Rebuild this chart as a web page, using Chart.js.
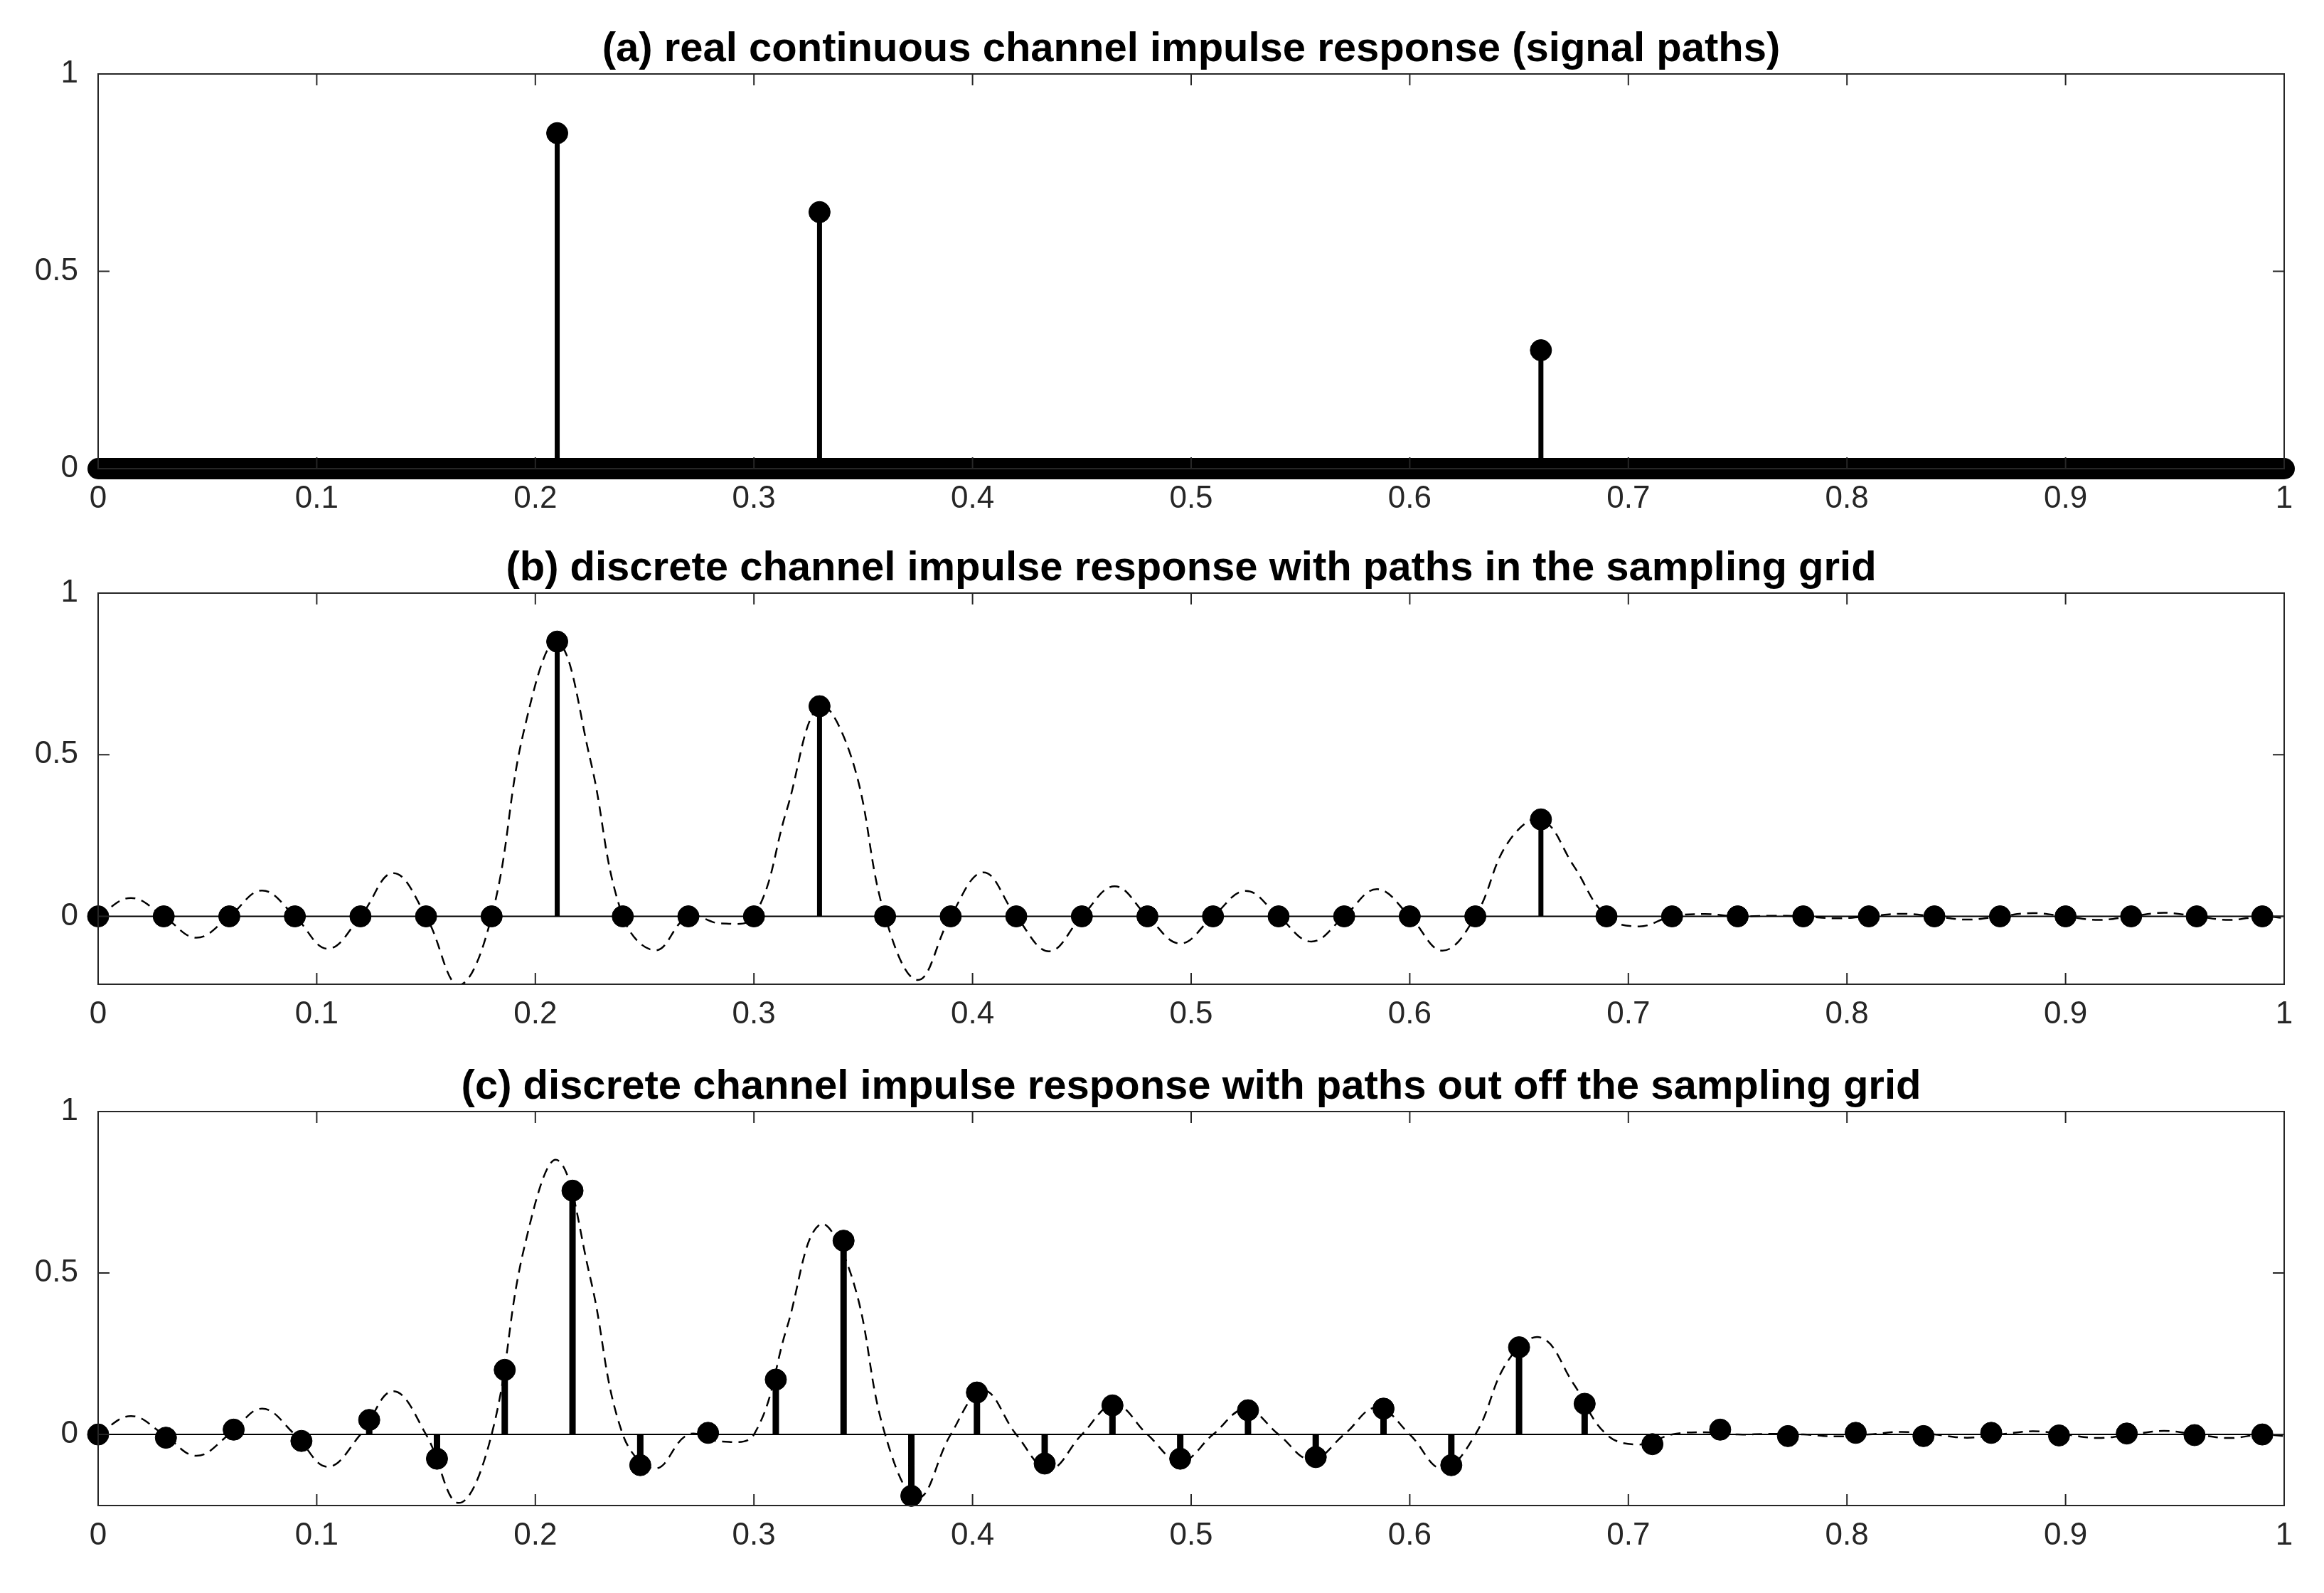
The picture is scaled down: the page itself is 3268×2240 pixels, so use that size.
<!DOCTYPE html>
<html><head><meta charset="utf-8">
<script src="https://cdn.jsdelivr.net/npm/chart.js@4/dist/chart.umd.min.js"></script>
<style>body{margin:0;background:#fff;width:3268px;height:2240px;position:relative;overflow:hidden}
.p{position:absolute;left:0;width:3268px}</style></head><body>
<div class="p" style="top:14px;height:715px"><canvas id="ca"></canvas></div>
<div class="p" style="top:744px;height:710px"><canvas id="cb"></canvas></div>
<div class="p" style="top:1473px;height:714px"><canvas id="cc"></canvas></div>
<script>
const titles = ["(a) real continuous channel impulse response (signal paths)",
 "(b) discrete channel impulse response with paths in the sampling grid",
 "(c) discrete channel impulse response with paths out off the sampling grid"];
const xTicks = [0,0.1,0.2,0.3,0.4,0.5,0.6,0.7,0.8,0.9,1];
const yTicks = [0,0.5,1];
const pathX = [0.21,0.33,0.66];
const pathY = [0.85,0.65,0.3];
const sampleBX = [0,0.03,0.06,0.09,0.12,0.15,0.18,0.21,0.24,0.27,0.30,0.33,0.36,0.39,0.42,0.45,0.48,0.51,0.54,0.57,0.60,0.63,0.66,0.69,0.72,0.75,0.78,0.81,0.84,0.87,0.90,0.93,0.96,0.99];
const sampleBY = [0,0,0,0,0,0,0,0.85,0,0,0,0.65,0,0,0,0,0,0,0,0,0,0,0.3,0,0,0,0,0,0,0,0,0,0,0];
const sampleCX = [0,0.031,0.062,0.093,0.124,0.155,0.186,0.217,0.248,0.279,0.31,0.341,0.372,0.402,0.433,0.464,0.495,0.526,0.557,0.588,0.619,0.65,0.68,0.711,0.742,0.773,0.804,0.835,0.866,0.897,0.928,0.959,0.99];
const sampleCY = [0,-0.01,0.015,-0.02,0.045,-0.075,0.2,0.755,-0.095,0.005,0.17,0.6,-0.19,0.13,-0.09,0.09,-0.075,0.075,-0.07,0.08,-0.095,0.27,0.095,-0.03,0.015,-0.005,0.005,-0.005,0.005,-0.003,0.003,-0.002,0];
const curveX = [0,0.015,0.03,0.045,0.06,0.075,0.09,0.105,0.12,0.135,0.15,0.165,0.18,0.195,0.21,0.225,0.24,0.255,0.27,0.285,0.30,0.315,0.33,0.345,0.36,0.375,0.39,0.405,0.42,0.435,0.45,0.465,0.48,0.495,0.51,0.525,0.54,0.555,0.57,0.585,0.60,0.615,0.63,0.645,0.66,0.675,0.69,0.705,0.72,0.735,0.75,0.765,0.78,0.795,0.81,0.825,0.84,0.855,0.87,0.885,0.90,0.915,0.93,0.945,0.96,0.975,0.99,1.0];
const curveY = [0,0.057,0,-0.066,0,0.080,0,-0.100,0,0.134,0,-0.212,0,0.581,0.85,0.489,0,-0.105,0,-0.022,0,0.329,0.65,0.483,0,-0.197,0,0.136,0,-0.108,0,0.093,0,-0.084,0,0.079,0,-0.078,0,0.084,0,-0.106,0,0.229,0.3,0.156,0,-0.031,0,0.007,0,0.002,0,-0.006,0,0.008,0,-0.010,0,0.010,0,-0.011,0,0.011,0,-0.011,0,-0.005];
const yMins = [0,-0.21,-0.22];

const C = '#000';
const FONT = '"Liberation Sans", Arial, sans-serif';
function stems(xs, ys){ const d=[]; xs.forEach((x,i)=>{ if(ys[i]!==0){ d.push({x,y:0},{x,y:ys[i]},{x,y:null}); } }); return d; }
function pts(xs, ys){ return xs.map((x,i)=>({x,y:ys[i]})); }
const boxPlugin = {id:'box', afterDraw(ch){
  const {ctx, chartArea:a} = ch; const xs=ch.scales.x, ys=ch.scales.y;
  ctx.save(); ctx.strokeStyle='#262626'; ctx.lineWidth=2;
  ctx.strokeRect(a.left,a.top,a.right-a.left,a.bottom-a.top);
  const L=16; ctx.beginPath();
  xTicks.forEach(v=>{const p=xs.getPixelForValue(v); ctx.moveTo(p,a.bottom); ctx.lineTo(p,a.bottom-L); ctx.moveTo(p,a.top); ctx.lineTo(p,a.top+L);});
  yTicks.forEach(v=>{const p=ys.getPixelForValue(v); ctx.moveTo(a.left,p); ctx.lineTo(a.left+L,p); ctx.moveTo(a.right,p); ctx.lineTo(a.right-L,p);});
  ctx.stroke();
  ctx.fillStyle='#000'; ctx.font='bold 58px '+FONT; ctx.textAlign='center'; ctx.textBaseline='alphabetic';
  ctx.fillText(ch.options.plugins.ttl, (a.left+a.right)/2, a.top-18);
  ctx.restore();
}};
function make(id, idx, datasets){
  new Chart(document.getElementById(id), {type:'scatter', data:{datasets},
    options:{responsive:true, maintainAspectRatio:false, animation:false, events:[],
      layout:{padding:{top:90,right:56,left:0,bottom:0}},
      plugins:{legend:{display:false}, tooltip:{enabled:false}, ttl:titles[idx]},
      scales:{
        x:{type:'linear',min:0,max:1,grid:{display:false},border:{display:false},
           afterBuildTicks:s=>{s.ticks=xTicks.map(v=>({value:v}));},
           afterFit:s=>{s.height=70;},
           ticks:{color:'#262626',font:{size:44,family:FONT},padding:8,maxRotation:0,autoSkip:false,callback:v=>String(v)}},
        y:{type:'linear',min:yMins[idx],max:1,grid:{display:false},border:{display:false},
           afterBuildTicks:s=>{s.ticks=yTicks.map(v=>({value:v}));},
           afterFit:s=>{s.width=138;},
           ticks:{color:'#262626',font:{size:44,family:FONT},padding:20,callback:v=>String(v)}}
      }}, plugins:[boxPlugin]});
}
make('ca',0,[
  {data:[{x:0,y:0},{x:1,y:0}],showLine:true,borderColor:C,borderWidth:30,borderCapStyle:'round',pointRadius:0,clip:false},
  {data:stems(pathX,pathY),showLine:true,spanGaps:false,borderColor:C,borderWidth:7,pointRadius:0,clip:false},
  {data:pts(pathX,pathY),pointRadius:15,pointBackgroundColor:C,pointBorderColor:C,clip:false}
]);
make('cb',1,[
  {data:[{x:0,y:0},{x:1,y:0}],showLine:true,borderColor:C,borderWidth:2,pointRadius:0},
  {data:pts(curveX,curveY),showLine:true,borderColor:C,borderWidth:2.5,borderDash:[14,9],tension:0.4,pointRadius:0},
  {data:stems(sampleBX,sampleBY),showLine:true,spanGaps:false,borderColor:C,borderWidth:7,pointRadius:0},
  {data:pts(sampleBX,sampleBY),pointRadius:15,pointBackgroundColor:C,pointBorderColor:C,clip:false}
]);
make('cc',2,[
  {data:[{x:0,y:0},{x:1,y:0}],showLine:true,borderColor:C,borderWidth:2,pointRadius:0},
  {data:pts(curveX,curveY),showLine:true,borderColor:C,borderWidth:2.5,borderDash:[14,9],tension:0.4,pointRadius:0},
  {data:stems(sampleCX,sampleCY),showLine:true,spanGaps:false,borderColor:C,borderWidth:9,pointRadius:0},
  {data:pts(sampleCX,sampleCY),pointRadius:15,pointBackgroundColor:C,pointBorderColor:C,clip:false}
]);
</script></body></html>
